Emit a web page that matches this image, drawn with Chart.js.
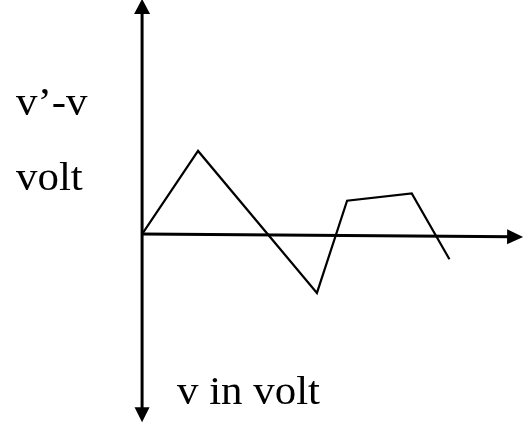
<!doctype html>
<html lang="en">
<head>
  <meta charset="utf-8">
  <title>v'-v over v</title>
  <style>
    * {
      margin: 0;
      padding: 0;
    }
    body {
      background: white;
    }
    .chartBox {
      width: 526px;
      height: 429px;
      position: relative;
    }
  </style>
</head>
<body>
<div class="chartBox">
  <canvas id="myChart" width="526" height="429"></canvas>
</div>

<script src="https://cdn.jsdelivr.net/npm/chart.js"></script>
<script>
  // curve (v in volt, v'-v in volt)
  const vValues = [0, 1.93, 6.03, 7.07, 9.3, 10.6];
  const diffValues = [0, 2.97, -2.1, 1.19, 1.45, -0.9];

  // axis ends (same units)
  const xRange = [-4.9, 13.24];
  const yRange = [-6.96, 8.36];
  const hAxisEnd = { x: 13.14, y: -0.1 };
  const vAxisEnds = [8.4, -6.72];

  // labels
  const yLabelTop = "v\u2019-v";
  const yLabelBottom = 'volt';
  const xLabel = 'v in volt';

  const points = vValues.map((v, i) => ({ x: v, y: diffValues[i] }));

  function arrowHead(ctx, tipX, tipY, dirX, dirY, len, half) {
    const px = -dirY, py = dirX;
    const bx = tipX - dirX * len, by = tipY - dirY * len;
    ctx.beginPath();
    ctx.moveTo(tipX, tipY);
    ctx.lineTo(bx + px * half, by + py * half);
    ctx.lineTo(bx - px * half, by - py * half);
    ctx.closePath();
    ctx.fill();
  }

  // text a bit wider than the font, like the scanned sketch
  function wideText(ctx, text, x, y) {
    ctx.save();
    ctx.translate(x, y);
    ctx.scale(1.1, 1);
    ctx.fillText(text, 0, 0);
    ctx.restore();
  }

  // draws the two arrowed axes and the text labels
  const sketchAxes = {
    id: 'sketchAxes',
    beforeDatasetsDraw(chart) {
      const ctx = chart.ctx;
      const xs = chart.scales.x, ys = chart.scales.y;
      const x0 = xs.getPixelForValue(0);
      const y0 = ys.getPixelForValue(0);
      ctx.save();
      ctx.strokeStyle = 'black';
      ctx.fillStyle = 'black';
      ctx.lineWidth = 3;

      // vertical axis
      const yTop = ys.getPixelForValue(vAxisEnds[0]);
      const yBot = ys.getPixelForValue(vAxisEnds[1]);
      ctx.beginPath();
      ctx.moveTo(x0, yTop + 10);
      ctx.lineTo(x0, yBot - 10);
      ctx.stroke();
      arrowHead(ctx, x0, yTop, 0, -1, 15, 8);
      arrowHead(ctx, x0, yBot, 0, 1, 15, 7.5);

      // horizontal axis
      const hx = xs.getPixelForValue(hAxisEnd.x);
      const hy = ys.getPixelForValue(hAxisEnd.y);
      const len = Math.hypot(hx - x0, hy - y0);
      const dx = (hx - x0) / len, dy = (hy - y0) / len;
      ctx.beginPath();
      ctx.moveTo(x0, y0);
      ctx.lineTo(hx - dx * 10, hy - dy * 10);
      ctx.stroke();
      arrowHead(ctx, hx, hy, dx, dy, 16, 7.5);

      // labels
      ctx.font = '39px "Liberation Serif", "Times New Roman", serif';
      ctx.textBaseline = 'alphabetic';
      ctx.textAlign = 'left';
      wideText(ctx, yLabelTop, 16, 115);
      wideText(ctx, yLabelBottom, 16, 190);
      wideText(ctx, xLabel, 177, 404);
      ctx.restore();
    }
  };

  const config = {
    type: 'line',
    data: {
      datasets: [{
        data: points,
        borderColor: 'black',
        borderWidth: 2.2,
        pointRadius: 0,
        tension: 0,
        fill: false
      }]
    },
    options: {
      responsive: false,
      animation: false,
      layout: { padding: 0 },
      scales: {
        x: { type: 'linear', min: xRange[0], max: xRange[1], display: false },
        y: { type: 'linear', min: yRange[0], max: yRange[1], display: false }
      },
      plugins: {
        legend: { display: false },
        tooltip: { enabled: false },
        title: { display: false }
      }
    },
    plugins: [sketchAxes]
  };

  const myChart = new Chart(document.getElementById('myChart'), config);
</script>
</body>
</html>
